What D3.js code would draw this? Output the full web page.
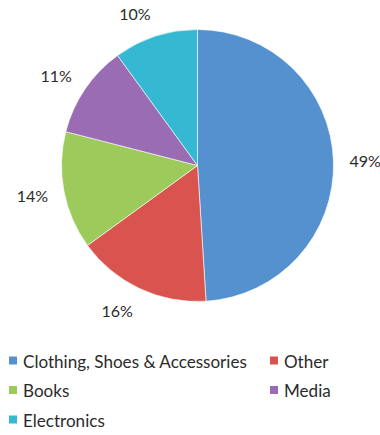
<!DOCTYPE html>
<html><head><meta charset="utf-8">
<script src="https://cdn.jsdelivr.net/npm/d3@7"></script>
<style>
html,body{margin:0;padding:0;background:#fff;}
svg{display:block;font-family:Lato,"Open Sans",sans-serif;}
</style></head>
<body><svg id="chart" width="380" height="435"></svg>
<script>
const categories = ["Clothing, Shoes & Accessories", "Other", "Books", "Media", "Electronics"];
const values = [49, 16, 14, 11, 10];
const labels = ["49%", "16%", "14%", "11%", "10%"];
const colors = ["#5591ce", "#d9534f", "#9ccb5c", "#9a6cb4", "#35b9d3"];

const svg = d3.select("#chart");
const cx = 197.5, cy = 165.5, r = 136;
const data = categories.map((c, i) => ({cat: c, value: values[i], label: labels[i], color: colors[i]}));
const pie = d3.pie().value(d => d.value).sort(null);
const arc = d3.arc().innerRadius(0).outerRadius(r);
const arcs = pie(data);
const g = svg.append("g").attr("transform", `translate(${cx},${cy})`);
g.selectAll("path").data(arcs).enter().append("path")
  .attr("d", arc).attr("fill", d => d.data.color)
  .attr("stroke", "#ffffff").attr("stroke-width", 0.6);

const R = 152;
g.selectAll("text.lbl").data(arcs).enter().append("text")
  .attr("class", "lbl")
  .attr("font-size", 16).attr("fill", "#2b2b2b")
  .attr("text-anchor", "middle").attr("dominant-baseline", "central")
  .text(d => d.data.label)
  .each(function(d) {
    const w = this.getComputedTextLength(), h = 16;
    const a = (d.startAngle + d.endAngle) / 2;
    const s = Math.sin(a), c = -Math.cos(a);
    const x = R * s + Math.sign(s) * w / 2;
    const y = R * c + c * h / 2;
    d3.select(this).attr("x", x).attr("y", y);
  });

// legend
const legendCols = [9, 270];
const legendRows = [361, 390.5, 420];
const lg = svg.append("g");
// size legend font so the longest entry spans like the reference
const probe = lg.append("text").attr("font-size", 100).text(categories[0]);
const legendFont = 100 * 224 / probe.node().getComputedTextLength();
probe.remove();
data.forEach((d, i) => {
  const col = i === 4 ? 0 : i % 2;
  const row = Math.floor(i / 2);
  const x = legendCols[col], y = legendRows[row];
  lg.append("rect").attr("x", x).attr("y", y - 4.5).attr("width", 8).attr("height", 8).attr("fill", d.color);
  lg.append("text").attr("x", x + 14).attr("y", y).attr("dominant-baseline", "central")
    .attr("font-size", legendFont).attr("fill", "#2b2b2b").text(d.cat);
});
</script></body></html>
